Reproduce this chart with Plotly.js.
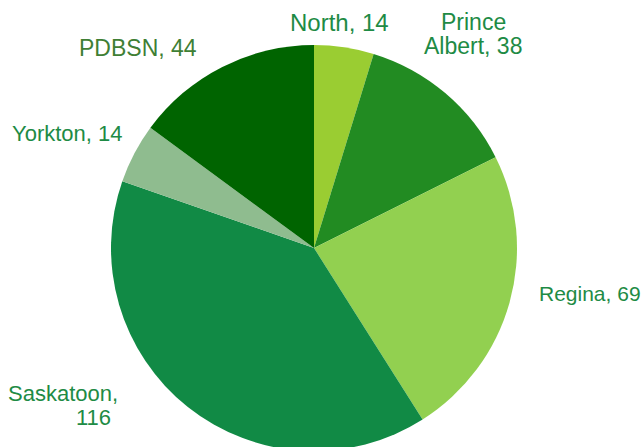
<!DOCTYPE html>
<html>
<head>
<meta charset="utf-8">
<script src="https://cdn.plot.ly/plotly-3.0.1.min.js"></script>
<style>
html,body{margin:0;padding:0;overflow:hidden;background:#fff;}
#chart{width:643px;height:451px;}
</style>
</head>
<body>
<div id="chart"></div>
<script>
const regions = ["North", "Prince Albert", "Regina", "Saskatoon", "Yorkton", "PDBSN"];
const counts = [14, 38, 69, 116, 14, 44];
const sliceColors = ["#9ACD32", "#228B22", "#92D050", "#118A45", "#8FBC8F", "#006400"];

const W = 643, H = 451;
const textColor = "#1E8B45";
// label layout: [lines, centerX, centerY(px from top), color, size]
const labelSpecs = [
  [["North, " + counts[0]], 339, 22, textColor, 24],
  [["Prince", "Albert, " + counts[1]], 473, 22, textColor, 23],
  [["Regina, " + counts[2]], 590, 293, textColor, 21],
  [["Saskatoon,", String(counts[3])], 63, 393, textColor, 22],
  [["Yorkton, " + counts[4]], 67, 133, textColor, 22],
  [["PDBSN, " + counts[5]], 138, 48, "#3F7F35", 23]
];

const annotations = [];
labelSpecs.forEach(function(s){
  s[0].forEach(function(line, i){
    let cx = s[1];
    if (line === String(counts[3])) cx = 93;
    annotations.push({
      text: line, xref: "paper", yref: "paper",
      x: cx / W, y: 1 - (s[2] + i * 24) / H,
      xanchor: "center", yanchor: "middle", showarrow: false,
      font: {family: "Liberation Sans, Arial, sans-serif", size: s[4], color: s[3]}
    });
  });
});

const trace = {
  type: "pie",
  labels: regions,
  values: counts,
  sort: false,
  direction: "clockwise",
  rotation: 0,
  textinfo: "none",
  hoverinfo: "label+value",
  marker: {colors: sliceColors, line: {width: 0}},
  domain: {x: [111 / W, 517 / W], y: [0, 406 / H]}
};

Plotly.newPlot("chart", [trace], {
  width: W, height: H,
  margin: {l: 0, r: 0, t: 0, b: 0},
  showlegend: false,
  paper_bgcolor: "#fff",
  annotations: annotations
}, {displayModeBar: false, staticPlot: true});
</script>
</body>
</html>
